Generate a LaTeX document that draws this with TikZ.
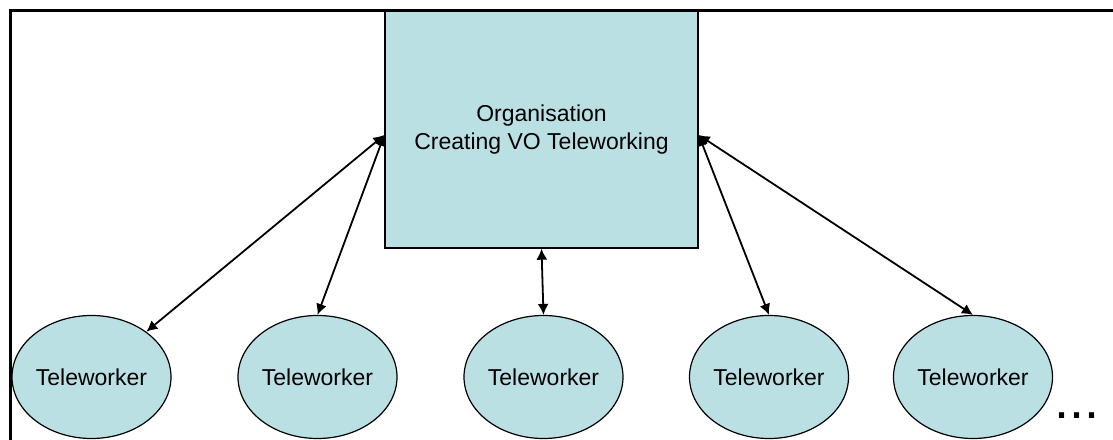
\documentclass[tikz,border=0pt]{standalone}
\usepackage{fontspec}
\setmainfont{Liberation Sans}
\usetikzlibrary{arrows.meta,shapes.geometric,calc}
\definecolor{paleblue}{RGB}{187,224,227}
\begin{document}
\begin{tikzpicture}[x=1bp,y=-1bp,
  orgbox/.style={rectangle,draw=black,line width=1.4bp,fill=paleblue,
    minimum width=313bp,minimum height=237bp,inner sep=0pt,align=center,
    font=\fontsize{23bp}{28bp}\selectfont},
  worker/.style={ellipse,draw=black,line width=1.2bp,fill=paleblue,
    minimum width=159bp,minimum height=123bp,inner sep=0pt,
    font=\fontsize{23bp}{28bp}\selectfont},
  link/.style={line width=1.8bp,{Latex[length=11bp,width=11bp]}-{Latex[length=11bp,width=11bp]}}]
  \useasboundingbox (0,0) rectangle (1113,440);
  % open frame: top and left edges only
  \draw[line width=2.6bp] (10.3,440) -- (10.3,10.7) -- (1113,10.7);
  % central organisation
  \node[orgbox] (org) at (541.5,129.5) {Organisation\\Creating VO Teleworking};
  % teleworkers
  \node[worker] (e1) at (91.5,377) {Teleworker};
  \node[worker] (e2) at (317.5,377) {Teleworker};
  \node[worker] (e3) at (543.5,377) {Teleworker};
  \node[worker] (e4) at (769,377) {Teleworker};
  \node[worker] (e5) at (973,377) {Teleworker};
  \node[anchor=base west,inner sep=0pt,font=\fontsize{54bp}{54bp}\selectfont] (more) at (1054,419) {...};
  % attachment points on the box sides
  \coordinate (ol) at ($(org.west)+(0,5.5)$);
  \coordinate (or) at ($(org.east)+(0,5.5)$);
  % links
  \draw[link] (ol) -- (e1);
  \draw[link] (ol) -- (e2.north);
  \draw[link] (org.south) -- (e3.north);
  \draw[link] (or) -- (e4.north);
  \draw[link] (or) -- (e5.north);
\end{tikzpicture}
\end{document}
